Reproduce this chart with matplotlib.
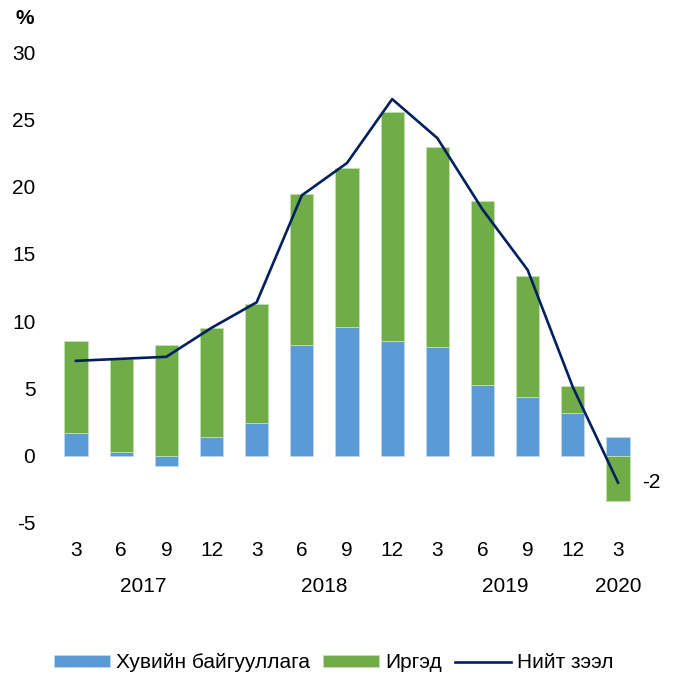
import numpy as np
import matplotlib
matplotlib.use("Agg")
import matplotlib.pyplot as plt
import matplotlib.transforms as mtransforms

# quarter labels and year groups
months = ['3', '6', '9', '12', '3', '6', '9', '12', '3', '6', '9', '12', '3']
years = ['2017', '2018', '2019', '2020']
year_pos = [1.5, 5.5, 9.5, 12]

# growth contributions, %
business = [1.7, 0.3, -0.8, 1.4, 2.4, 8.2, 9.55, 8.5, 8.1, 5.25, 4.4, 3.2, 1.4]
individuals = [6.85, 6.9, 8.25, 8.1, 8.9, 11.25, 11.85, 17.05, 14.85, 13.7, 8.95, 2.0, -3.4]
total = [7.05, 7.2, 7.35, 9.5, 11.4, 19.35, 21.75, 26.5, 23.6, 18.3, 13.8, 5.1, -2.0]

plt.rcParams['font.family'] = ['Liberation Sans', 'DejaVu Sans']
plt.rcParams['font.size'] = 15
plt.rcParams['axes.unicode_minus'] = False

fig = plt.figure(figsize=(6.74, 6.77), dpi=100)
W, H = 674, 677
ax = fig.add_axes([53.4 / W, 1 - 523 / H, 587.2 / W, (523 - 52) / H])

x = np.arange(len(months))
biz = np.array(business)
ind = np.array(individuals)
bottom_ind = np.where((ind >= 0) & (biz > 0), biz, 0)
bottom_ind = np.where((ind < 0) & (biz < 0), biz, bottom_ind)

b1 = ax.bar(x, biz, width=0.51, color='#5B9BD5', edgecolor='#BDD7EE', linewidth=0.6,
            label='Хувийн байгууллага', zorder=2)
b2 = ax.bar(x, ind, width=0.51, bottom=bottom_ind, color='#70AD47', edgecolor='#C5E0B4',
            linewidth=0.6, label='Иргэд', zorder=2)
l1, = ax.plot(x, total, color='#002060', linewidth=1.9, label='Нийт зээл', zorder=3)

ax.annotate(f'{total[-1]:.0f}', (x[-1], total[-1]), xytext=(17, 0),
            textcoords='offset points', va='center', ha='left')

ax.set_xlim(-0.5, len(months) - 0.5)
ax.set_ylim(-5, 30)
ax.set_yticks(range(-5, 31, 5))
ax.set_xticks(x)
ax.set_xticklabels(months)
ax.tick_params(axis='both', length=0)
ax.tick_params(axis='y', pad=13)
ax.tick_params(axis='x', pad=13)
for s in ax.spines.values():
    s.set_visible(False)

trans = mtransforms.blended_transform_factory(ax.transData, fig.transFigure)
for yr, p in zip(years, year_pos):
    ax.text(p, 1 - 586 / H, yr, transform=trans, ha='center', va='center')

fig.text(25 / W, 1 - 18 / H, '%', ha='center', va='center', fontweight='bold')

fig.legend([b1, b2, l1], ['Хувийн байгууллага', 'Иргэд', 'Нийт зээл'],
           loc='center', bbox_to_anchor=(0.495, 1 - 663 / H), ncol=3, frameon=False,
           handlelength=2.7, handleheight=0.5, columnspacing=0.6, handletextpad=0.3)

fig.savefig('out.png', dpi=100)
